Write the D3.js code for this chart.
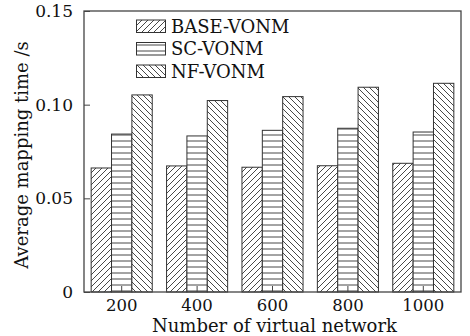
<!DOCTYPE html>
<html><head><meta charset="utf-8">
<script src="https://cdn.jsdelivr.net/npm/d3@7"></script>
<style>body{margin:0;background:#fff}svg{display:block}text{font-family:"DejaVu Serif",serif;fill:#111}</style>
</head><body><svg id="c" width="470" height="336"></svg>
<script>
const categories = ["200","400","600","800","1000"];
const seriesNames = ["BASE-VONM","SC-VONM","NF-VONM"];
const baseVonm = [0.0662, 0.0673, 0.0666, 0.0674, 0.0687];
const scVonm   = [0.0843, 0.0833, 0.0863, 0.0874, 0.0854];
const nfVonm   = [0.1052, 0.1022, 0.1043, 0.1093, 0.1114];
const yTicks = [0, 0.05, 0.10, 0.15];
const yTickLabels = ["0","0.05","0.10","0.15"];

const series = [baseVonm, scVonm, nfVonm];
const patterns = ["p-base","p-sc","p-nf"];

const svg = d3.select("#c");
const m = {l:84, r:461, t:11, b:292};
const ink = "#333";

const defs = svg.append("defs");
function pat(id, d){
  const p = defs.append("pattern").attr("id",id).attr("patternUnits","userSpaceOnUse")
    .attr("width",6).attr("height",6);
  p.append("rect").attr("width",6).attr("height",6).attr("fill","#fff");
  p.append("path").attr("d",d).attr("stroke",ink).attr("stroke-width",0.9).attr("fill","none");
}
pat("p-base","M0,6 L6,0 M-1,1 L1,-1 M5,7 L7,5");
pat("p-sc","M0,3 L6,3");
pat("p-nf","M0,0 L6,6 M-1,5 L1,7 M5,-1 L7,1");

const x0 = d3.scaleBand().domain(categories).range([m.l, m.r]).paddingInner(0.19).paddingOuter(0.095);
const x1 = d3.scaleBand().domain(seriesNames).range([0, x0.bandwidth()]);
const y = d3.scaleLinear().domain([0, 0.15]).range([m.b, m.t]);

// bars
seriesNames.forEach((s, si) => {
  svg.append("g").selectAll("rect").data(series[si]).join("rect")
    .attr("x", (d,i) => x0(categories[i]) + x1(s))
    .attr("y", d => y(d))
    .attr("width", x1.bandwidth())
    .attr("height", d => y(0) - y(d))
    .attr("fill", `url(#${patterns[si]})`)
    .attr("stroke", ink).attr("stroke-width", 1);
});

// frame
svg.append("rect").attr("x", m.l).attr("y", m.t).attr("width", m.r - m.l).attr("height", m.b - m.t)
  .attr("fill","none").attr("stroke","#444").attr("stroke-width",1.3);

// y axis (inward ticks)
const yAxis = d3.axisLeft(y).tickValues(yTicks).tickFormat((d,i) => yTickLabels[i]).tickSizeInner(-6).tickSizeOuter(0).tickPadding(11);
const gy = svg.append("g").attr("transform", `translate(${m.l},0)`).call(yAxis);
gy.select(".domain").remove();
gy.selectAll("line").attr("stroke", "#444");
gy.selectAll("text").style("font-size","17px").style("font-family",'"DejaVu Serif",serif').attr("fill","#111");

// x axis (inward ticks)
const xAxis = d3.axisBottom(x0).tickSizeInner(-6).tickSizeOuter(0).tickPadding(0);
const gx = svg.append("g").attr("transform", `translate(0,${m.b})`).call(xAxis);
gx.select(".domain").remove();
gx.selectAll("line").attr("stroke", "#444");
gx.selectAll("text").attr("y", 19).attr("dy", null)
  .style("font-size","16.5px").style("font-family",'"DejaVu Serif",serif').attr("fill","#111");

// axis titles
svg.append("text").attr("x", (m.l + m.r)/2 + 2).attr("y", 332).attr("text-anchor","middle")
  .style("font-size","18px").text("Number of virtual network");
svg.append("text").attr("transform", "translate(28,155) rotate(-90)").attr("text-anchor","middle")
  .style("font-size","18px").text("Average mapping time /s");

// legend
const lg = svg.append("g");
seriesNames.forEach((s, i) => {
  const yy = 20 + i*22.5;
  lg.append("rect").attr("x",136.5).attr("y",yy).attr("width",29).attr("height",12.5)
    .attr("fill",`url(#${patterns[i]})`).attr("stroke",ink).attr("stroke-width",1);
  lg.append("text").attr("x",171).attr("y",yy+12.5).style("font-size","18px").text(s);
});
</script></body></html>
